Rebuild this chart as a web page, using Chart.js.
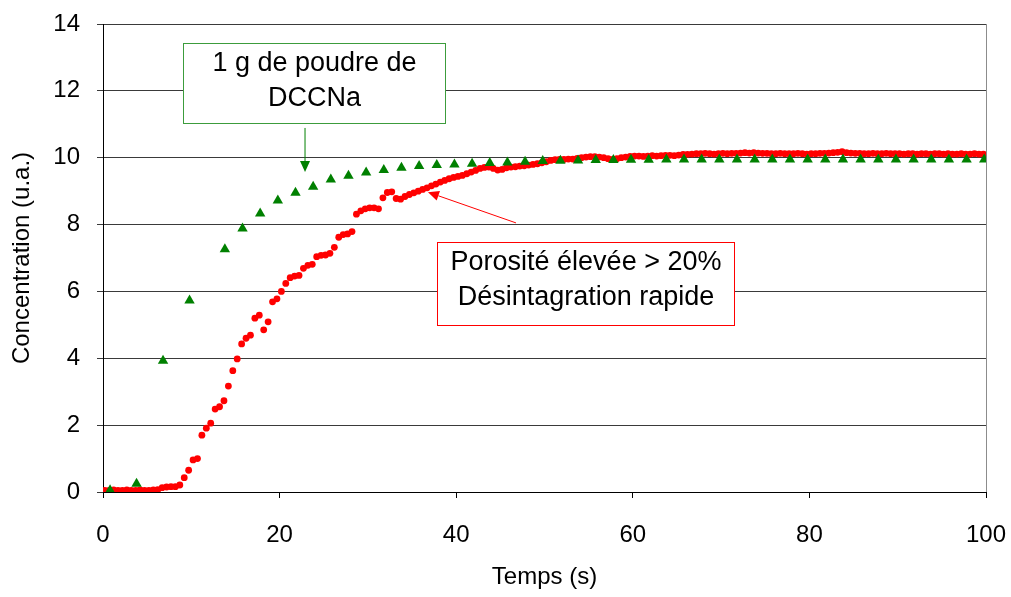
<!DOCTYPE html>
<html>
<head>
<meta charset="utf-8">
<script src="https://cdn.jsdelivr.net/npm/chart.js@4/dist/chart.umd.min.js"></script>
<style>
html,body{margin:0;padding:0;background:#fff;}
#wrap{width:1011px;height:597px;}
</style>
</head>
<body>
<div id="wrap"><canvas id="c" width="1011" height="597"></canvas></div>
<script>
// ---- data ----
const xTickValues = [0, 20, 40, 60, 80, 100];
const yTickValues = [0, 2, 4, 6, 8, 10, 12, 14];

const greenTimes = [0.8, 3.8, 6.8, 9.8, 13.8, 15.8, 17.8, 19.8, 21.8, 23.8, 25.8, 27.8, 29.8, 31.8, 33.8, 35.8, 37.8, 39.8, 41.8, 43.8, 45.8, 47.8, 49.8, 51.8, 53.8, 55.8, 57.8, 59.8, 61.8, 63.8, 65.8, 67.8, 69.8, 71.8, 73.8, 75.8, 77.8, 79.8, 81.8, 83.8, 85.8, 87.8, 89.8, 91.8, 93.8, 95.8, 97.8, 99.8];
const greenValues = [0.05, 0.25, 3.93, 5.73, 7.26, 7.88, 8.33, 8.72, 8.95, 9.13, 9.35, 9.46, 9.56, 9.63, 9.70, 9.75, 9.78, 9.80, 9.82, 9.84, 9.86, 9.88, 9.90, 9.91, 9.92, 9.93, 9.93, 9.94, 9.94, 9.95, 9.95, 9.95, 9.95, 9.95, 9.95, 9.95, 9.95, 9.95, 9.95, 9.95, 9.95, 9.95, 9.95, 9.95, 9.95, 9.95, 9.95, 9.95];

const redTimes = [0.2, 0.7, 1.2, 1.7, 2.2, 2.7, 3.2, 3.7, 4.2, 4.7, 5.2, 5.7, 6.2, 6.7, 7.2, 7.7, 8.2, 8.7, 9.2, 9.7,
 10.2, 10.7, 11.2, 11.7, 12.2, 12.7, 13.2, 13.7, 14.2, 14.7, 15.2, 15.7, 16.2, 16.7, 17.2, 17.7, 18.2, 18.7, 19.2, 19.7,
 20.2, 20.7, 21.2, 21.7, 22.2, 22.7, 23.2, 23.7, 24.2, 24.7, 25.2, 25.7, 26.2, 26.7, 27.2, 27.7, 28.2, 28.7, 29.2, 29.7,
 30.2, 30.7, 31.2, 31.7, 32.2, 32.7, 33.2, 33.7, 34.2, 34.7, 35.2, 35.7, 36.2, 36.7, 37.2, 37.7, 38.2, 38.7, 39.2, 39.7,
 40.2, 40.7, 41.2, 41.7, 42.2, 42.7, 43.2, 43.7, 44.2, 44.7, 45.2, 45.7, 46.2, 46.7, 47.2, 47.7, 48.2, 48.7, 49.2, 49.7,
 50.2, 50.7, 51.2, 51.7, 52.2, 52.7, 53.2, 53.7, 54.2, 54.7, 55.2, 55.7, 56.2, 56.7, 57.2, 57.7, 58.2, 58.7, 59.2, 59.7,
 60.2, 60.7, 61.2, 61.7, 62.2, 62.7, 63.2, 63.7, 64.2, 64.7, 65.2, 65.7, 66.2, 66.7, 67.2, 67.7, 68.2, 68.7, 69.2, 69.7,
 70.2, 70.7, 71.2, 71.7, 72.2, 72.7, 73.2, 73.7, 74.2, 74.7, 75.2, 75.7, 76.2, 76.7, 77.2, 77.7, 78.2, 78.7, 79.2, 79.7,
 80.2, 80.7, 81.2, 81.7, 82.2, 82.7, 83.2, 83.7, 84.2, 84.7, 85.2, 85.7, 86.2, 86.7, 87.2, 87.7, 88.2, 88.7, 89.2, 89.7,
 90.2, 90.7, 91.2, 91.7, 92.2, 92.7, 93.2, 93.7, 94.2, 94.7, 95.2, 95.7, 96.2, 96.7, 97.2, 97.7, 98.2, 98.7, 99.2, 99.7];
const redValues = [0.05, 0.05, 0.06, 0.05, 0.05, 0.06, 0.05, 0.05, 0.06, 0.05, 0.05, 0.06, 0.07, 0.13, 0.15, 0.16, 0.16, 0.21, 0.43, 0.65,
 0.96, 1.00, 1.70, 1.91, 2.06, 2.48, 2.55, 2.73, 3.17, 3.63, 3.98, 4.43, 4.60, 4.69, 5.20, 5.29, 4.85, 5.09, 5.69, 5.78,
 6.00, 6.24, 6.41, 6.46, 6.48, 6.69, 6.78, 6.81, 7.04, 7.08, 7.09, 7.14, 7.32, 7.62, 7.70, 7.72, 7.79, 8.31, 8.41, 8.47,
 8.50, 8.50, 8.47, 8.80, 8.96, 8.98, 8.78, 8.76, 8.84, 8.90, 8.95, 9.00, 9.05, 9.10, 9.16, 9.21, 9.27, 9.32, 9.37, 9.41,
 9.44, 9.47, 9.52, 9.57, 9.62, 9.68, 9.71, 9.72, 9.68, 9.63, 9.65, 9.70, 9.72, 9.73, 9.75, 9.76, 9.78, 9.80, 9.82, 9.85,
 9.88, 9.92, 9.94, 9.95, 9.95, 9.96, 9.96, 9.98, 10.00, 10.02, 10.03, 10.03, 10.02, 10.00, 9.97, 9.95, 9.97, 10.00, 10.02, 10.04,
 10.05, 10.05, 10.04, 10.05, 10.06, 10.05, 10.06, 10.07, 10.07, 10.06, 10.08, 10.10, 10.10, 10.11, 10.12, 10.12, 10.13, 10.12, 10.11, 10.12,
 10.13, 10.12, 10.13, 10.13, 10.14, 10.15, 10.14, 10.15, 10.14, 10.13, 10.13, 10.12, 10.12, 10.13, 10.12, 10.12, 10.12, 10.13, 10.12, 10.11,
 10.12, 10.12, 10.13, 10.13, 10.14, 10.15, 10.16, 10.18, 10.15, 10.14, 10.13, 10.13, 10.12, 10.12, 10.13, 10.12, 10.12, 10.13, 10.12, 10.12,
 10.12, 10.11, 10.12, 10.12, 10.11, 10.12, 10.12, 10.11, 10.12, 10.12, 10.11, 10.12, 10.11, 10.11, 10.12, 10.11, 10.11, 10.12, 10.11, 10.11];

const xTitle = 'Temps (s)';
const yTitle = 'Concentration (u.a.)';

// annotation boxes (data coordinates)
const greenNote = {lines: ['1 g de poudre de', 'DCCNa'], x0: 9.06, x1: 38.73, y0: 13.43, y1: 11.04,
  arrowFrom: [22.88, 10.89], arrowTo: [22.88, 9.57], color: '#008000', border: '#3c9c3c'};
const redNote = {lines: ['Porosité élevée > 20%', 'Désintagration rapide'], x0: 37.83, x1: 71.46, y0: 7.48, y1: 5.0,
  arrowFrom: [46.77, 8.05], arrowTo: [36.8, 8.97], color: '#ff0000', border: '#ff0000'};

const FONT = "'Liberation Sans', Arial, Helvetica, sans-serif";

function drawArrow(ctx, x1, y1, x2, y2, color) {
  ctx.save();
  ctx.strokeStyle = color; ctx.fillStyle = color; ctx.lineWidth = 1;
  const ang = Math.atan2(y2 - y1, x2 - x1);
  const L = 11, W = 5;
  const bx = x2 - L * Math.cos(ang), by = y2 - L * Math.sin(ang);
  ctx.beginPath(); ctx.moveTo(x1, y1); ctx.lineTo(bx, by); ctx.stroke();
  ctx.beginPath();
  ctx.moveTo(x2, y2);
  ctx.lineTo(bx + W * Math.sin(ang), by - W * Math.cos(ang));
  ctx.lineTo(bx - W * Math.sin(ang), by + W * Math.cos(ang));
  ctx.closePath(); ctx.fill();
  ctx.restore();
}

const notesPlugin = {
  id: 'notes',
  afterDatasetsDraw(chart) {
    const ctx = chart.ctx;
    const xs = chart.scales.x, ys = chart.scales.y;
    const area = chart.chartArea;
    // right plot border
    ctx.save();
    ctx.strokeStyle = '#8c8c8c'; ctx.lineWidth = 1;
    ctx.beginPath(); ctx.moveTo(Math.round(area.right) + 0.5, area.top); ctx.lineTo(Math.round(area.right) + 0.5, area.bottom); ctx.stroke();
    ctx.restore();
    [greenNote, redNote].forEach(n => {
      const l = Math.round(xs.getPixelForValue(n.x0)) + 0.5, r = Math.round(xs.getPixelForValue(n.x1)) + 0.5;
      const t = Math.round(ys.getPixelForValue(n.y0)) + 0.5, b = Math.round(ys.getPixelForValue(n.y1)) + 0.5;
      ctx.save();
      ctx.fillStyle = '#ffffff';
      ctx.fillRect(l, t, r - l, b - t);
      ctx.strokeStyle = n.border; ctx.lineWidth = 1;
      ctx.strokeRect(l, t, r - l, b - t);
      ctx.fillStyle = '#000000';
      ctx.font = '27px ' + FONT;
      ctx.textAlign = 'center'; ctx.textBaseline = 'middle';
      const cx = (l + r) / 2;
      n.lines.forEach((s, i) => ctx.fillText(s, cx, t + 20 + i * 35));
      ctx.restore();
      drawArrow(ctx, xs.getPixelForValue(n.arrowFrom[0]), ys.getPixelForValue(n.arrowFrom[1]),
        xs.getPixelForValue(n.arrowTo[0]), ys.getPixelForValue(n.arrowTo[1]), n.color);
    });
  }
};

Chart.defaults.font.family = FONT;
Chart.defaults.font.size = 24;
Chart.defaults.color = '#000000';

function zeroPad(s) { s.paddingLeft = 0; s.paddingRight = 0; s.paddingTop = 0; s.paddingBottom = 0; }

new Chart(document.getElementById('c'), {
  type: 'scatter',
  data: {
    datasets: [
      {
        label: '1 g de poudre de DCCNa',
        data: greenTimes.map((t, i) => ({x: t, y: greenValues[i]})),
        pointStyle: 'triangle', pointRadius: 6, backgroundColor: '#008000', borderColor: '#008000', borderWidth: 0,
        showLine: false
      },
      {
        label: 'Porosité élevée > 20%',
        data: redTimes.map((t, i) => ({x: t, y: redValues[i]})),
        pointStyle: 'circle', pointRadius: 3.4, backgroundColor: '#ff0000', borderColor: '#ff0000', borderWidth: 0,
        showLine: false
      }
    ]
  },
  options: {
    responsive: false,
    animation: false,
    events: [],
    layout: {padding: {left: 0, right: 25, top: 24, bottom: 0}},
    plugins: {legend: {display: false}, tooltip: {enabled: false}, title: {display: false}},
    scales: {
      x: {
        type: 'linear', min: 0, max: 100,
        afterBuildTicks: s => { s.ticks = xTickValues.map(v => ({value: v})); },
        afterFit: s => { s.height = 105; zeroPad(s); },
        ticks: {padding: 23, font: {size: 24}, color: '#000'},
        grid: {display: true, drawOnChartArea: false, drawTicks: true, tickLength: 6, color: '#000'},
        border: {display: true, color: '#000', width: 1},
        title: {display: true, text: xTitle, font: {size: 24}, color: '#000', padding: {top: 0, bottom: 5}}
      },
      y: {
        type: 'linear', min: 0, max: 14,
        afterBuildTicks: s => { s.ticks = yTickValues.map(v => ({value: v})); },
        afterFit: s => { s.width = 103; zeroPad(s); },
        ticks: {padding: 17, font: {size: 24}, color: '#000'},
        grid: {display: true, drawTicks: true, tickLength: 6, color: '#3a3a3a', lineWidth: 1},
        border: {display: true, color: '#000', width: 1},
        title: {display: true, text: yTitle, font: {size: 24}, color: '#000', padding: {top: 8, bottom: 0}}
      }
    }
  },
  plugins: [notesPlugin]
});
</script>
</body>
</html>
